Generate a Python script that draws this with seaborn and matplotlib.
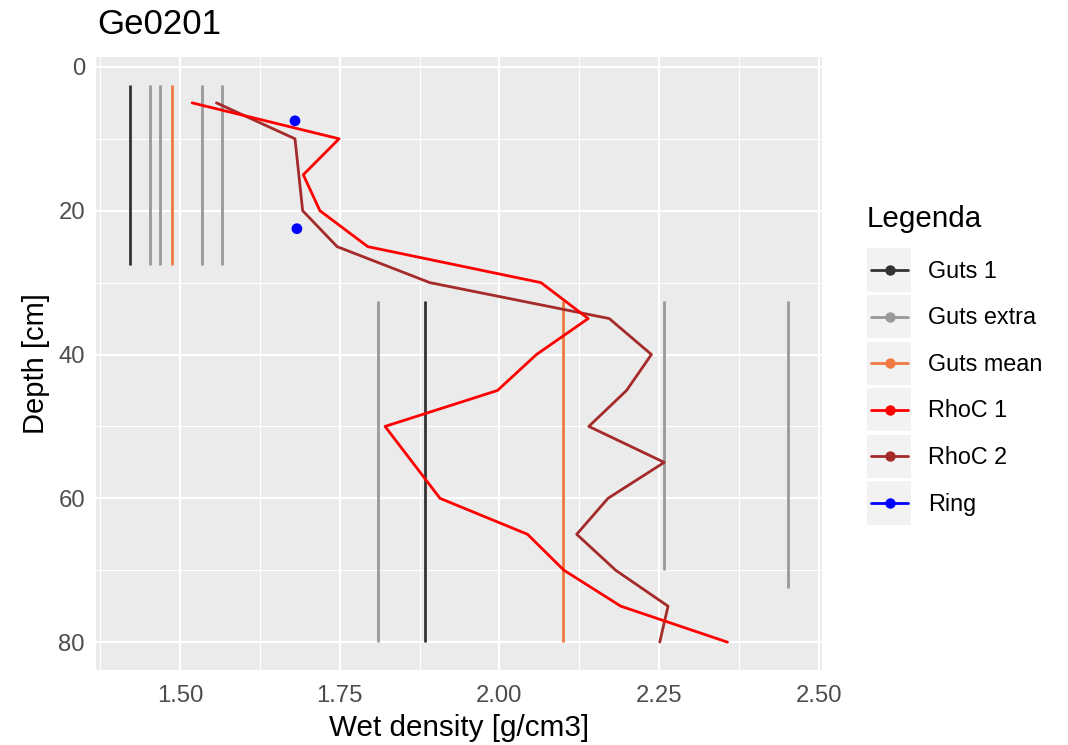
import matplotlib
matplotlib.use("Agg")
import matplotlib.pyplot as plt
import seaborn as sns
import pandas as pd
import numpy as np
from matplotlib.patches import Rectangle
from matplotlib.lines import Line2D

# ---------------- data ----------------
rhoc1_depth = [5, 10, 15, 20, 25, 30, 35, 40, 45, 50, 60, 65, 70, 75, 80]
rhoc1_dens = [1.519, 1.749, 1.693, 1.719, 1.794, 2.065, 2.139, 2.058, 1.997, 1.821,
              1.907, 2.044, 2.101, 2.190, 2.357]

rhoc2_depth = [5, 10, 20, 25, 30, 35, 40, 45, 50, 55, 60, 65, 70, 75, 80]
rhoc2_dens = [1.557, 1.680, 1.692, 1.746, 1.891, 2.172, 2.238, 2.199, 2.140, 2.258,
              2.170, 2.121, 2.182, 2.264, 2.251]

ring_depth = [7.5, 22.5]
ring_dens = [1.680, 1.683]

guts1_dens = [1.421, 1.884]
guts1_top = [2.5, 32.5]
guts1_bot = [27.5, 80]

gutsx_dens = [1.453, 1.469, 1.535, 1.565, 1.810, 2.257, 2.452]
gutsx_top = [2.5, 2.5, 2.5, 2.5, 32.5, 32.5, 32.5]
gutsx_bot = [27.5, 27.5, 27.5, 27.5, 80, 70, 72.5]

gutsm_dens = [1.488, 2.100]
gutsm_top = [2.5, 32.5]
gutsm_bot = [27.5, 80]

x_ticks = [1.50, 1.75, 2.00, 2.25, 2.50]
x_tick_labels = ["1.50", "1.75", "2.00", "2.25", "2.50"]
y_ticks = [0, 20, 40, 60, 80]
y_tick_labels = ["0", "20", "40", "60", "80"]

legend_labels = ["Guts 1", "Guts extra", "Guts mean", "RhoC 1", "RhoC 2", "Ring"]
colors = {"Guts 1": "#333333", "Guts extra": "#999999", "Guts mean": "#EE7942",
          "RhoC 1": "#FF0000", "RhoC 2": "#A52A2A", "Ring": "#0000FF"}

# ---------------- figure ----------------
sns.set_style("white")
plt.rcParams["font.family"] = ["Liberation Sans", "DejaVu Sans"]
plt.rcParams["text.color"] = "black"
plt.rcParams["axes.labelcolor"] = "black"

W, H = 1068, 745
fig = plt.figure(figsize=(W / 100, H / 100), dpi=100)
L, R, T, B = 96, 822, 57, 670
ax = fig.add_axes([L / W, 1 - B / H, (R - L) / W, (B - T) / H])
ax.set_facecolor("#EBEBEB")

lw = 2.0
# guts segments
ax.vlines(guts1_dens, guts1_top, guts1_bot, color=colors["Guts 1"], lw=lw, zorder=3)
ax.vlines(gutsx_dens, gutsx_top, gutsx_bot, color=colors["Guts extra"], lw=lw, zorder=3)
ax.vlines(gutsm_dens, gutsm_top, gutsm_bot, color=colors["Guts mean"], lw=lw, zorder=3)

df1 = pd.DataFrame({"dens": rhoc1_dens, "depth": rhoc1_depth})
df2 = pd.DataFrame({"dens": rhoc2_dens, "depth": rhoc2_depth})
sns.lineplot(data=df2, x="dens", y="depth", sort=False, estimator=None,
             color=colors["RhoC 2"], lw=lw, ax=ax, zorder=4)
sns.lineplot(data=df1, x="dens", y="depth", sort=False, estimator=None,
             color=colors["RhoC 1"], lw=lw, ax=ax, zorder=5)
dfr = pd.DataFrame({"dens": ring_dens, "depth": ring_depth})
sns.scatterplot(data=dfr, x="dens", y="depth", color=colors["Ring"], s=60,
                edgecolor="none", ax=ax, zorder=6)

ax.set_xlim(1.3685, 2.505)
ax.set_ylim(83.875, -1.375)

# grid
ax.set_xticks(x_ticks)
ax.set_xticklabels(x_tick_labels)
ax.set_yticks(y_ticks)
ax.set_yticklabels(y_tick_labels)
ax.set_xticks([1.375, 1.625, 1.875, 2.125, 2.375], minor=True)
ax.set_yticks([10, 30, 50, 70], minor=True)
ax.grid(which="major", color="white", lw=1.6, zorder=0)
ax.grid(which="minor", color="white", lw=0.8, zorder=0)
ax.set_axisbelow(True)
for s in ax.spines.values():
    s.set_visible(False)
ax.tick_params(which="major", length=5, width=1.6, color="#333333",
               labelsize=17.2, labelcolor="#4D4D4D", pad=3)
ax.tick_params(axis="x", which="major", pad=5.5)
ax.tick_params(which="minor", length=0)

ax.set_xlabel("Wet density [g/cm3]", fontsize=21.3, color="black", labelpad=5)
ax.set_ylabel("Depth [cm]", fontsize=21, color="black", labelpad=6)
fig.text(97 / W, 1 - 25 / H, "Ge0201", fontsize=25, ha="left", va="center")

# ---------------- legend (pixel overlay) ----------------
lax = fig.add_axes([0, 0, 1, 1], facecolor="none")
lax.set_xlim(0, W)
lax.set_ylim(H, 0)
lax.axis("off")
lax.text(867, 219, "Legenda", fontsize=21.3, ha="left", va="center")
row0, pitch, kh = 270, 46.6, 43.3
for i, lab in enumerate(legend_labels):
    cy = row0 + i * pitch
    lax.add_patch(Rectangle((867, cy - kh / 2), 44, kh, facecolor="#F2F2F2", edgecolor="none"))
    lax.add_line(Line2D([871, 908], [cy, cy], color=colors[lab], lw=lw))
    lax.plot([889.5], [cy], "o", color=colors[lab], ms=7.5, mec="none")
    lax.text(928, cy + 1, lab, fontsize=16.8, ha="left", va="center")

fig.savefig("out.png", dpi=100)
